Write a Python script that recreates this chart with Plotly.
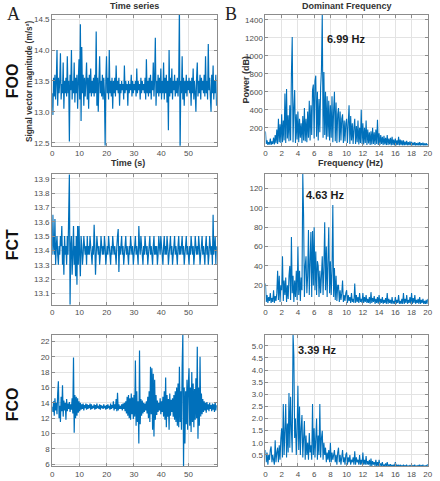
import numpy as np
import plotly.graph_objects as go
from plotly.subplots import make_subplots

# ---------------- data ----------------
DURATION_S = 60.3          # length of each recording (s)
FREQ_STEP_HZ = 0.1         # spectral resolution

foo_signal = [
    13.3, 12.95, 13.55, 13.25, 13.6, 13.2, 13.5, 14.0, 13.1, 13.55, 13.3, 13.5, 13.95, 13.2, 13.45, 13.3, 13.8, 13.05, 13.5, 13.3,
    13.55, 13.25, 13.9, 13.3, 13.5, 12.52, 13.6, 13.35, 14.0, 13.2, 13.5, 13.3, 13.8, 13.15, 13.55, 13.3, 13.6, 13.05, 13.5, 13.85,
    13.2, 14.42, 12.85, 14.05, 13.3, 13.6, 13.1, 13.55, 13.25, 13.5, 13.8, 13.2, 13.55, 13.05, 13.6, 13.3, 13.7, 13.25, 13.5, 13.3,
    13.55, 13.25, 13.6, 13.3, 14.3, 13.1, 13.55, 13.0, 13.5, 13.9, 13.3, 13.5, 13.25, 13.6, 13.2, 13.55, 13.3, 12.45, 13.5, 13.9,
    13.3, 13.55, 13.2, 14.0, 13.3, 13.5, 13.25, 13.55, 13.05, 13.5, 13.3, 13.55, 13.25, 13.75, 13.35, 13.5, 13.3, 13.55, 13.1, 13.45,
    13.3, 13.5, 13.35, 13.45, 13.2, 13.75, 13.3, 13.5, 13.35, 13.45, 13.1, 13.5, 13.3, 13.45, 13.35, 13.6, 13.25, 13.5, 13.3, 13.45,
    13.35, 13.5, 13.25, 13.7, 13.3, 13.5, 13.35, 13.45, 13.2, 13.55, 13.3, 13.5, 13.35, 13.45, 13.3, 13.55, 13.2, 13.85, 13.3, 13.5,
    13.25, 13.55, 13.3, 13.6, 13.2, 13.5, 13.35, 13.8, 13.25, 13.55, 14.2, 13.1, 13.5, 13.3, 13.6, 13.25, 13.55, 13.3, 13.7, 13.2,
    13.5, 13.3, 13.8, 13.2, 13.55, 13.3, 13.6, 13.15, 13.5, 12.7, 14.0, 13.25, 13.55, 13.3, 13.7, 13.2, 13.5, 13.35, 13.6, 13.25,
    13.5, 13.3, 13.55, 13.25, 13.5, 14.7, 12.3, 13.5, 13.3, 13.9, 13.2, 13.55, 13.1, 13.5, 13.3, 13.6, 13.25, 13.5, 13.35, 13.55,
    13.3, 13.5, 13.1, 13.55, 13.3, 13.7, 13.2, 13.5, 13.3, 13.0, 13.55, 13.8, 13.25, 13.5, 13.3, 13.6, 13.2, 13.55, 13.35, 13.5,
    13.3, 13.6, 13.25, 13.9, 13.3, 13.5, 13.2, 14.1, 13.35, 13.55, 13.25, 13.0, 13.6, 13.3, 13.75, 13.2, 13.5, 13.3, 13.6, 13.1,
]

fct_signal = [
    13.37, 13.65, 13.43, 13.37, 13.62, 13.3, 13.43, 13.5, 13.37, 13.3, 13.43, 13.37, 13.5, 13.43, 13.57, 13.3, 13.43, 13.23, 13.5, 13.37,
    13.43, 13.3, 13.5, 13.37, 13.65, 13.93, 13.02, 13.43, 13.5, 13.23, 13.37, 13.57, 13.3, 13.43, 13.22, 13.5, 13.16, 13.57, 13.3, 13.57,
    13.37, 13.22, 13.5, 13.43, 13.3, 13.37, 13.5, 13.43, 13.37, 13.43, 13.3, 13.5, 13.37, 13.43, 13.37, 13.5, 13.43, 13.37, 13.3, 13.43,
    13.37, 13.58, 13.43, 13.23, 13.37, 13.5, 13.43, 13.37, 13.43, 13.3, 13.37, 13.5, 13.43, 13.37, 13.43, 13.37, 13.5, 13.43, 13.3, 13.37,
    13.43, 13.37, 13.5, 13.43, 13.37, 13.3, 13.43, 13.37, 13.5, 13.43, 13.37, 13.43, 13.37, 13.3, 13.43, 13.5, 13.55, 13.25, 13.43, 13.37,
    13.43, 13.5, 13.37, 13.43, 13.3, 13.37, 13.43, 13.5, 13.37, 13.43, 13.37, 13.3, 13.43, 13.37, 13.5, 13.43, 13.37, 13.43, 13.3, 13.37,
    13.43, 13.5, 13.37, 13.43, 13.37, 13.3, 13.57, 13.43, 13.37, 13.5, 13.43, 13.37, 13.3, 13.43, 13.37, 13.5, 13.43, 13.37, 13.43, 13.3,
    13.37, 13.43, 13.5, 13.37, 13.43, 13.37, 13.3, 13.43, 13.5, 13.37, 13.43, 13.37, 13.43, 13.3, 13.37, 13.5, 13.43, 13.37, 13.5, 13.43,
    13.37, 13.3, 13.43, 13.5, 13.37, 13.43, 13.37, 13.5, 13.43, 13.3, 13.37, 13.43, 13.5, 13.37, 13.43, 13.3, 13.37, 13.43, 13.5, 13.37,
    13.43, 13.37, 13.3, 13.43, 13.5, 13.37, 13.43, 13.37, 13.43, 13.5, 13.37, 13.43, 13.3, 13.37, 13.43, 13.5, 13.37, 13.43, 13.37, 13.3,
    13.43, 13.37, 13.5, 13.43, 13.37, 13.43, 13.3, 13.37, 13.5, 13.43, 13.37, 13.43, 13.37, 13.5, 13.43, 13.3, 13.37, 13.43, 13.5, 13.37,
    13.43, 13.37, 13.3, 13.43, 13.5, 13.37, 13.43, 13.3, 13.37, 13.5, 13.43, 13.37, 13.43, 13.3, 13.65, 13.37, 13.43, 13.5, 13.3, 13.43,
]

fco_signal = [
    13.5, 12.8, 14.2, 12.3, 14.6, 13.0, 14.0, 12.5, 15.2, 16.8, 12.0, 13.6, 11.5, 14.8, 12.9, 16.3, 12.2, 14.3, 13.0, 14.0,
    11.8, 14.5, 12.9, 13.9, 13.2, 14.1, 12.8, 13.8, 13.1, 14.6, 12.6, 19.9, 10.1, 15.0, 12.0, 14.8, 12.3, 14.6, 12.7, 14.2,
    12.9, 14.0, 13.1, 13.8, 13.2, 13.9, 13.0, 13.7, 13.3, 13.9, 13.1, 13.8, 13.2, 13.7, 13.3, 13.9, 13.1, 13.8, 13.2, 13.6,
    13.3, 13.8, 13.1, 13.7, 13.2, 13.9, 13.3, 13.6, 13.2, 13.8, 13.1, 13.7, 13.3, 13.6, 13.2, 13.8, 13.3, 13.6, 13.1, 13.7,
    13.2, 13.8, 13.3, 13.6, 13.1, 13.9, 13.2, 13.7, 13.3, 14.2, 13.0, 13.8, 13.2, 14.5, 12.9, 15.3, 13.0, 13.8, 13.2, 13.6,
    13.2, 13.8, 13.0, 13.9, 13.2, 14.0, 12.9, 14.2, 12.6, 14.8, 12.3, 15.0, 12.0, 14.6, 11.8, 15.2, 12.5, 14.7, 11.9, 15.0,
    12.2, 19.5, 11.0, 15.5, 11.5, 14.2, 8.7, 20.8, 11.2, 14.5, 12.3, 14.3, 12.6, 14.0, 12.8, 13.9, 13.0, 14.2, 12.6, 14.8,
    12.0, 15.5, 11.5, 18.7, 12.5, 18.5, 10.5, 17.8, 9.6, 17.0, 11.8, 15.0, 12.4, 14.3, 12.8, 14.0, 13.0, 14.6, 12.5, 14.2,
    12.8, 14.8, 12.2, 15.5, 11.8, 17.3, 10.8, 15.0, 12.2, 14.5, 10.5, 15.2, 12.3, 14.4, 12.8, 14.6, 12.2, 15.0, 11.8, 15.5,
    11.5, 16.0, 11.0, 16.5, 10.8, 18.7, 11.5, 15.5, 10.5, 18.8, 22.9, 5.5, 16.0, 8.7, 15.5, 11.2, 17.0, 10.5, 16.5, 18.5,
    11.0, 16.0, 10.2, 18.0, 11.5, 16.5, 10.8, 15.8, 11.8, 17.2, 12.0, 21.3, 9.3, 16.0, 11.0, 20.0, 12.2, 15.2, 12.5, 14.5,
    12.8, 14.2, 13.0, 14.0, 12.7, 14.1, 13.1, 13.8, 12.9, 14.0, 13.2, 13.7, 12.9, 13.9, 13.1, 13.8, 12.8, 14.1, 13.0, 13.7,
]

foo_power = [
    160, 20, 60, 10, 40, 15, 80, 10, 50, 20,
    90, 15, 120, 30, 180, 20, 300, 40, 240, 30,
    350, 40, 280, 60, 580, 30, 630, 80, 340, 50,
    450, 60, 800, 1210, 40, 420, 620, 30, 350, 70,
    380, 40, 300, 90, 250, 30, 330, 60, 420, 50,
    300, 40, 380, 90, 500, 60, 450, 120, 620, 680,
    80, 720, 780, 100, 600, 60, 520, 150, 650, 850,
    1470, 90, 820, 120, 600, 70, 550, 100, 500, 60,
    450, 90, 550, 40, 400, 600, 50, 480, 30, 350,
    420, 40, 380, 60, 300, 350, 30, 280, 50, 250,
    300, 30, 250, 450, 20, 330, 60, 250, 20, 200,
    300, 20, 220, 40, 280, 15, 200, 30, 400, 20,
    250, 15, 200, 30, 280, 10, 180, 25, 150, 10,
    160, 15, 200, 20, 150, 10, 180, 20, 290, 10,
    140, 10, 120, 20, 100, 8, 110, 15, 90, 8,
    120, 8, 80, 15, 90, 5, 100, 10, 70, 5,
    80, 5, 60, 10, 100, 5, 70, 8, 60, 5,
    60, 5, 45, 8, 55, 4, 40, 6, 50, 4,
    45, 4, 35, 6, 40, 3, 30, 5, 35, 3,
    40, 3, 30, 5, 35, 3, 25, 4, 30, 3, 20,
]

fct_power = [
    22, 3, 10, 2, 8, 4, 12, 2, 7, 3,
    15, 2, 9, 4, 12, 35, 5, 30, 3, 20,
    15, 50, 4, 25, 10, 28, 3, 20, 6, 30,
    40, 5, 70, 12, 30, 3, 25, 8, 35, 5,
    60, 10, 35, 4, 28, 15, 135, 92, 8, 40,
    50, 12, 30, 77, 10, 45, 75, 8, 76, 20,
    80, 15, 55, 10, 45, 40, 8, 35, 12, 30,
    50, 10, 40, 85, 15, 60, 8, 45, 80, 12,
    45, 10, 35, 103, 8, 38, 5, 30, 4, 20,
    20, 3, 15, 5, 12, 25, 3, 10, 4, 12,
    15, 2, 10, 4, 8, 2, 12, 3, 6, 2,
    22, 2, 10, 3, 8, 2, 12, 3, 6, 2,
    12, 2, 8, 3, 10, 2, 6, 2, 8, 1,
    13, 2, 7, 3, 9, 1, 6, 2, 8, 1,
    10, 1, 6, 2, 8, 1, 5, 2, 7, 1,
    12, 1, 6, 2, 5, 1, 8, 1, 4, 1,
    8, 1, 5, 2, 10, 1, 4, 1, 6, 1,
    12, 1, 6, 2, 10, 1, 5, 2, 8, 1,
    12, 1, 7, 2, 10, 1, 5, 2, 6, 1,
    8, 1, 5, 2, 6, 1, 4, 1, 5, 1, 6,
]

fco_power = [
    0.7, 0.2, 0.6, 0.1, 0.5, 0.3, 0.7, 0.85, 0.2, 0.5,
    0.3, 0.1, 1.1, 0.2, 0.6, 0.8, 0.2, 0.9, 0.3, 1.2,
    1.6, 0.4, 2.6, 0.5, 1.5, 2.6, 0.4, 1.8, 0.6, 3.05,
    0.8, 2.9, 1.5, 0.6, 5.5, 4.6, 1.2, 2.0, 0.5, 1.5,
    3.35, 0.7, 2.5, 0.5, 1.6, 2.15, 0.4, 1.2, 1.9, 0.3,
    1.3, 0.5, 1.0, 0.3, 1.4, 0.6, 0.9, 0.3, 2.6, 0.5,
    1.6, 0.4, 1.2, 2.0, 0.3, 1.3, 0.5, 2.6, 0.4, 1.2,
    1.5, 0.3, 1.0, 0.5, 0.8, 0.2, 0.6, 0.3, 0.7, 0.2,
    1.0, 0.2, 0.6, 0.3, 0.5, 0.7, 0.2, 0.5, 0.1, 0.6,
    0.8, 0.2, 0.5, 0.1, 0.4, 0.7, 0.2, 0.4, 0.1, 0.5,
    0.6, 0.1, 0.4, 0.2, 0.5, 0.1, 0.3, 0.2, 0.4, 0.1,
    0.65, 0.1, 0.4, 0.2, 0.3, 0.1, 0.5, 0.1, 0.3, 0.1,
    0.6, 0.1, 0.3, 0.1, 0.45, 0.1, 0.25, 0.1, 0.3, 0.05,
    0.35, 0.05, 0.25, 0.1, 0.2, 0.05, 0.3, 0.05, 0.2, 0.05,
    0.3, 0.05, 0.15, 0.05, 0.2, 0.03, 0.1, 0.05, 0.15, 0.03,
    0.2, 0.03, 0.1, 0.05, 0.12, 0.03, 0.08, 0.04, 0.1, 0.03,
    0.2, 0.03, 0.1, 0.04, 0.08, 0.02, 0.1, 0.03, 0.06, 0.02,
    0.1, 0.02, 0.06, 0.03, 0.08, 0.02, 0.05, 0.03, 0.07, 0.02,
    0.1, 0.02, 0.06, 0.03, 0.08, 0.02, 0.05, 0.03, 0.07, 0.02,
    0.1, 0.02, 0.06, 0.03, 0.08, 0.02, 0.05, 0.03, 0.07, 0.02, 0.12,
]

row_names = ["FOO", "FCT", "FCO"]
dominant_freqs = ["6.99 Hz", "4.63 Hz", "3.39 Hz"]
dominant_label_pos = [(7.3, 1190), (4.7, 113), (3.8, 4.83)]

time_ticks = [0, 10, 20, 30, 40, 50]
freq_ticks = [0, 2, 4, 6, 8, 10, 12, 14, 16, 18, 20]
time_ranges = [[12.45, 14.57], [13.02, 13.935], [5.75, 22.85]]
time_yticks = [
    [12.5, 13.0, 13.5, 14.0, 14.5],
    [13.1, 13.2, 13.3, 13.4, 13.5, 13.6, 13.7, 13.8, 13.9],
    [6, 8, 10, 12, 14, 16, 18, 20, 22],
]
time_yfmt = [".1f", ".1f", "d"]
power_ranges = [[0, 1455], [0, 135], [0.04, 5.45]]
power_yticks = [
    [200, 400, 600, 800, 1000, 1200, 1400],
    [20, 40, 60, 80, 100, 120],
    [0.5, 1.0, 1.5, 2.0, 2.5, 3.0, 3.5, 4.0, 4.5, 5.0],
]
power_yfmt = ["d", "d", ".1f"]

# ---------------- figure ----------------
signals = [foo_signal, fct_signal, fco_signal]
powers = [foo_power, fct_power, fco_power]

LINE = "#0070BB"
GRID = "#e3e3e3"
AXC = "#8c8c8c"
TICKC = "#4d4d4d"
FONT = "Liberation Sans, Arial, sans-serif"
NARROW = "Liberation Sans Narrow, Arial Narrow, Liberation Sans, sans-serif"

fig = make_subplots(rows=3, cols=2)

left_dom = [0.1159, 0.4961]
right_dom = [0.6084, 0.9834]
row_dom = [[0.695, 0.9688], [0.3624, 0.6362], [0.0249, 0.2994]]

for r in range(3):
    sig = signals[r]
    t = np.arange(len(sig)) * (DURATION_S / (len(sig) - 1))
    fig.add_trace(go.Scatter(x=t, y=sig, mode="lines",
                             line=dict(color=LINE, width=1.2, simplify=False),
                             showlegend=False, hoverinfo="skip"), row=r + 1, col=1)
    pw = powers[r]
    f = np.arange(len(pw)) * FREQ_STEP_HZ
    fig.add_trace(go.Scatter(x=f, y=pw, mode="lines",
                             line=dict(color=LINE, width=1.1, simplify=False),
                             showlegend=False, hoverinfo="skip"), row=r + 1, col=2)

common = dict(showgrid=True, gridcolor=GRID, gridwidth=1, showline=True, linecolor=AXC,
              linewidth=1, mirror="ticks", ticks="inside", ticklen=3, tickcolor=AXC,
              zeroline=False, tickfont=dict(family=NARROW, size=8, color=TICKC))

for r in range(3):
    fig.update_xaxes(row=r + 1, col=1, domain=left_dom, range=[0, DURATION_S + 0.1],
                     tickvals=time_ticks, **common)
    fig.update_yaxes(row=r + 1, col=1, domain=row_dom[r], range=time_ranges[r],
                     tickvals=time_yticks[r], tickformat=time_yfmt[r], **common)
    fig.update_xaxes(row=r + 1, col=2, domain=right_dom, range=[0, 20],
                     tickvals=freq_ticks, **common)
    fig.update_yaxes(row=r + 1, col=2, domain=row_dom[r], range=power_ranges[r],
                     tickvals=power_yticks[r], tickformat=power_yfmt[r], **common)

ann = []
# dominant frequency labels
for r in range(3):
    xr = "x%d" % (2 * r + 2)
    yr = "y%d" % (2 * r + 2)
    ann.append(dict(x=dominant_label_pos[r][0], y=dominant_label_pos[r][1], xref=xr, yref=yr,
                    text="<b>%s</b>" % dominant_freqs[r], showarrow=False, xanchor="left",
                    yanchor="middle", font=dict(family=FONT, size=11, color="#1a1a1a")))

def paper_text(px, py, text, size, angle=0, family=FONT, color="#1a1a1a"):
    return dict(x=px / 440, y=1 - py / 481, xref="paper", yref="paper", text=text,
                showarrow=False, xanchor="center", yanchor="middle", textangle=angle,
                font=dict(family=family, size=size, color=color))

ann.append(paper_text(12, 14, "A", 18, family="Liberation Serif, serif", color="#222"))
ann.append(paper_text(233, 14, "B", 18, family="Liberation Serif, serif", color="#222"))
ann.append(paper_text(135, 6, "<b>Time series</b>", 9, color="#333"))
ann.append(paper_text(351, 6, "<b>Dominant Frequency</b>", 9, color="#333"))
ann.append(paper_text(128, 164, "<b>Time (s)</b>", 9, color="#333"))
ann.append(paper_text(354, 164, "<b>Frequency (Hz)</b>", 9, color="#333"))
ann.append(paper_text(28, 82, "<b>Signal vector magnitude (m/s²)</b>", 8.3, angle=-90, color="#333"))
ann.append(paper_text(247, 80, "<b>Power (dB)</b>", 9, angle=-90, color="#333"))
for name, py in zip(row_names, [81, 246, 407]):
    ann.append(paper_text(11, py, "<b>%s</b>" % name, 16, angle=-90, color="#111"))

fig.update_layout(width=440, height=481, autosize=False,
                  margin=dict(l=0, r=0, t=0, b=0),
                  paper_bgcolor="white", plot_bgcolor="white",
                  annotations=ann, showlegend=False)

fig.write_html("out.html")
